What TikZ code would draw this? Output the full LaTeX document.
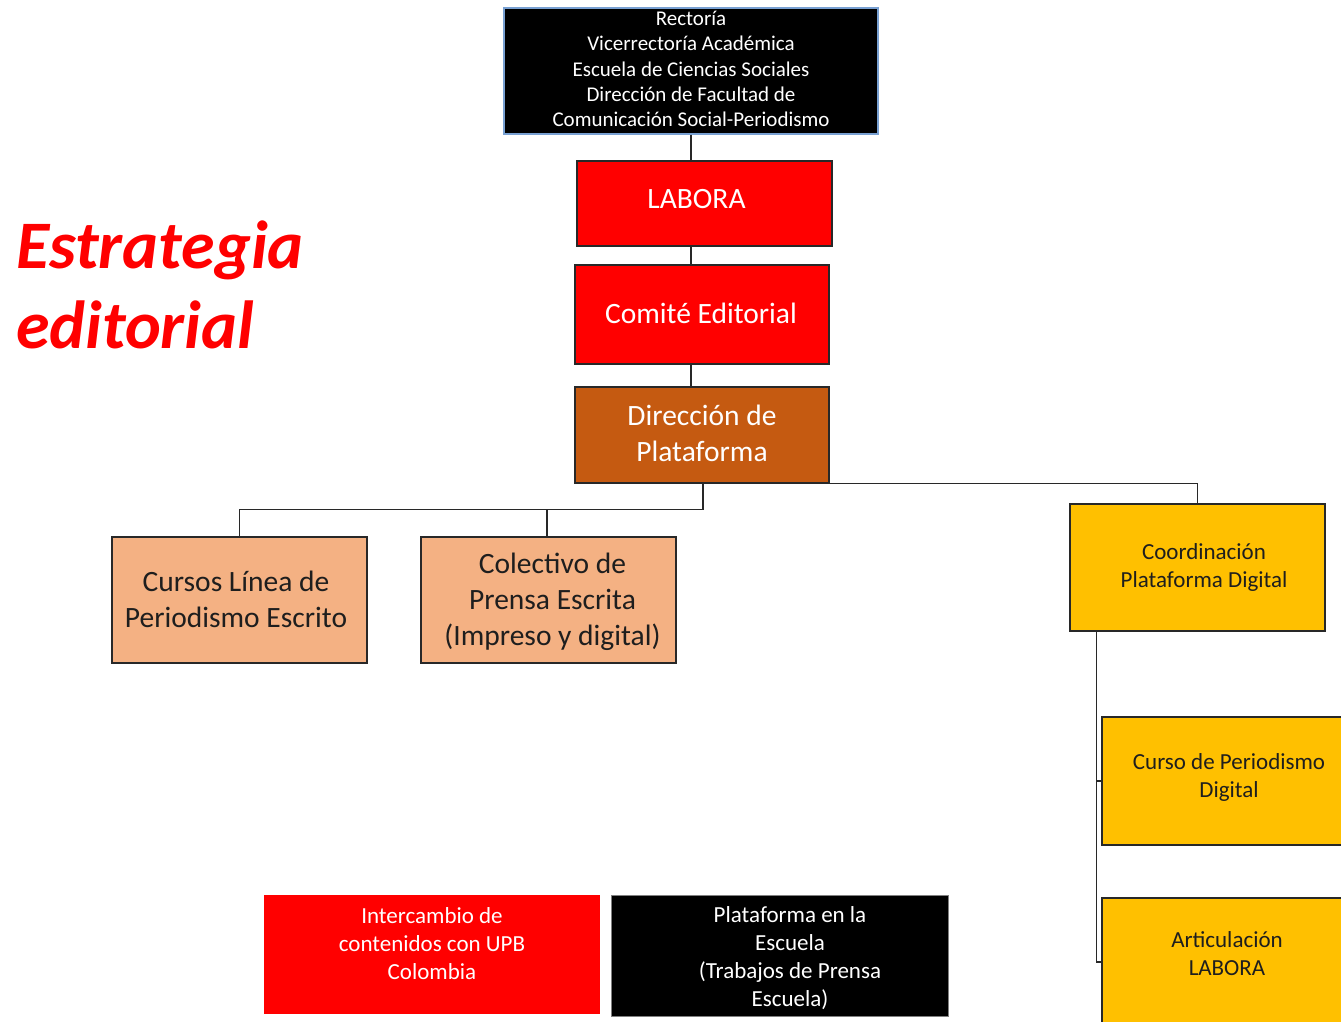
\documentclass[tikz,border=0pt]{standalone}
\usepackage{fontspec}
\setmainfont{Carlito}
\definecolor{boxred}{RGB}{255,0,0}
\definecolor{dirbrown}{RGB}{197,90,17}
\definecolor{peach}{RGB}{244,177,131}
\definecolor{gold}{RGB}{255,192,0}
\definecolor{edge}{RGB}{40,40,40}
\definecolor{lblue}{RGB}{120,160,210}
\definecolor{darktext}{RGB}{30,30,30}
\begin{document}
\begin{tikzpicture}[x=1pt,y=-1pt,
  box/.style={rectangle,draw=edge,line width=1.3pt,inner sep=0pt},
  txt/.style={inner sep=0pt,align=center},
  conn/.style={draw=edge,line width=1.3pt},
  bigtxt/.style={txt,font=\fontsize{29.5}{36}\selectfont},
  midtxt/.style={txt,font=\fontsize{23}{28}\selectfont},
  smalltxt/.style={txt,font=\fontsize{21}{25.2}\selectfont},
  titletxt/.style={inner sep=0pt,anchor=base west,text=boxred,font=\fontsize{68}{80}\selectfont\bfseries\itshape}]
\clip (0,0) rectangle (1341,1021);
\useasboundingbox (0,0) rectangle (1341,1021);

% boxes
\node[box,draw=lblue,fill=black,minimum width=374pt,minimum height=126pt] (top) at (691,71) {};
\node[box,fill=boxred,minimum width=255pt,minimum height=85pt] (labora) at (704.5,203.5) {};
\node[box,fill=boxred,minimum width=254pt,minimum height=99pt] (comite) at (702,314.5) {};
\node[box,fill=dirbrown,minimum width=254pt,minimum height=96pt] (dir) at (702,435) {};
\node[box,fill=peach,minimum width=255pt,minimum height=126pt] (cursos) at (239.5,600) {};
\node[box,fill=peach,minimum width=255pt,minimum height=126pt] (colectivo) at (548.5,600) {};
\node[box,fill=gold,minimum width=255pt,minimum height=127pt] (coord) at (1197.5,567.5) {};
\node[box,fill=gold,minimum width=254pt,minimum height=128pt] (curso) at (1229,781) {};
\node[box,fill=gold,minimum width=254pt,minimum height=128pt] (artic) at (1229,962) {};
\node[rectangle,inner sep=0pt,fill=boxred,minimum width=336pt,minimum height=119pt] (inter) at (432,954.5) {};
\node[box,draw=gray,line width=0.8pt,fill=black,minimum width=337pt,minimum height=121pt] (plat) at (779.5,955.5) {};

% texts
\node[smalltxt,text=white] (top-t) at ([shift={(0,-2)}]top.center)
  {Rectoría\\Vicerrectoría Académica\\Escuela de Ciencias Sociales\\Dirección de Facultad de\\Comunicación Social-Periodismo};
\node[bigtxt,text=white] (labora-t) at ([shift={(-8,-4)}]labora.center) {LABORA};
\node[bigtxt,text=white] (comite-t) at ([shift={(-1,-1)}]comite.center) {Comité Editorial};
\node[bigtxt,text=white] (dir-t) at ([shift={(0,-2)}]dir.center) {Dirección de\\Plataforma};
\node[bigtxt,text=darktext] (cursos-t) at ([shift={(-3.5,-0.5)}]cursos.center) {Cursos Línea de\\Periodismo Escrito};
\node[bigtxt,text=darktext] (colectivo-t) at ([shift={(4,1.5)}]colectivo.center) {Colectivo de\\Prensa Escrita\\(Impreso y digital)};
\node[midtxt,text=darktext] (coord-t) at ([shift={(6.5,-0.5)}]coord.center) {Coordinación\\Plataforma Digital};
\node[midtxt,text=darktext] (curso-t) at ([shift={(0,-3.5)}]curso.center) {Curso de Periodismo\\Digital};
\node[midtxt,text=darktext] (artic-t) at ([shift={(-2,-8.5)}]artic.center) {Articulación\\LABORA};
\node[midtxt,text=white] (inter-t) at ([shift={(0,-10.5)}]inter.center) {Intercambio de\\contenidos con UPB\\Colombia};
\node[midtxt,text=white] (plat-t) at ([shift={(10.5,2.5)}]plat.center) {Plataforma en la\\Escuela\\(Trabajos de Prensa\\Escuela)};

\node[titletxt] (title1) at (16,268) {Estrategia};
\node[titletxt] (title2) at (16,348) {editorial};

% connectors
\draw[conn] (top.south) -- (top.south |- labora.north);
\draw[conn] (top.south |- labora.south) -- (top.south |- comite.north);
\draw[conn] (top.south |- comite.south) -- (top.south |- dir.north);
\coordinate (dj) at ([xshift=1pt]dir.south);
\draw[conn] (dj) -- ++(0,26) -| (cursos.north);
\draw[conn] (dj) -- ++(0,26) -| ([xshift=-1.5pt]colectivo.north);
\draw[conn] (dir.south east) -| (coord.north);
\coordinate (cj) at ([xshift=27pt]coord.south west);
\draw[conn] (cj) |- (curso.west);
\draw[conn] (cj) |- (artic.west);
\end{tikzpicture}
\end{document}
